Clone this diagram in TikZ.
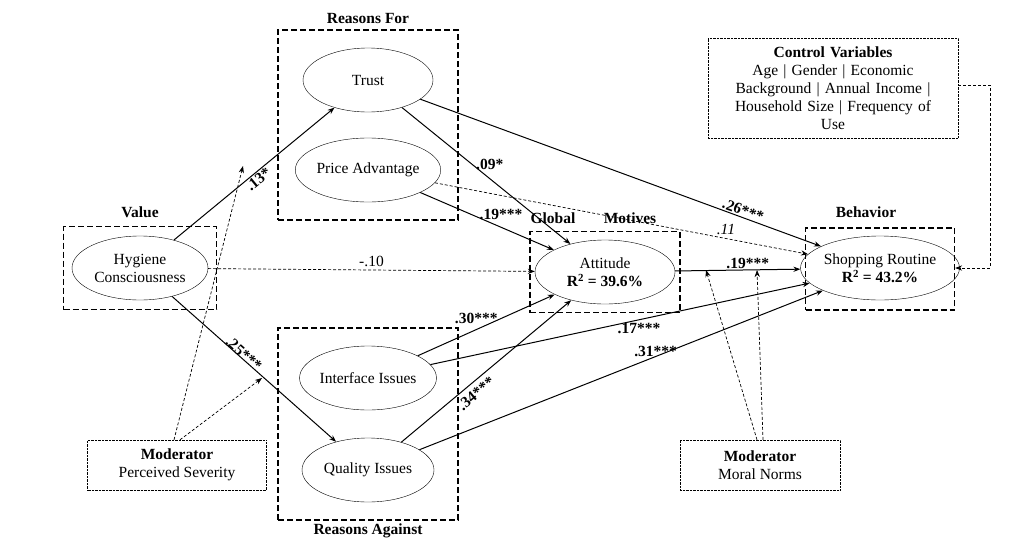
\documentclass[tikz,border=0pt]{standalone}
\usepackage{fontspec}
\setmainfont{Liberation Serif}
\usetikzlibrary{arrows.meta,shapes.geometric,calc}
\begin{document}
\begin{tikzpicture}[x=1pt,y=-1pt,
 el/.style={draw,ellipse,minimum width=136pt,minimum height=64pt,inner sep=0pt,font=\fontsize{15.5}{18}\selectfont,align=center},
 grp/.style={draw,line width=1.3pt,dash pattern=on 6pt off 3pt},
 ctl/.style={draw,densely dotted,align=center,font=\fontsize{15.5}{18}\selectfont},
 hd/.style={font=\bfseries\fontsize{15.5}{18}\selectfont},
 ar/.style={-{Stealth[length=7pt]},line width=1pt},
 da/.style={-{Stealth[length=7pt]},densely dashed,line width=0.7pt},
 lb/.style={font=\bfseries\fontsize{15.5}{18}\selectfont,inner sep=1pt}]
\useasboundingbox (0,0) rectangle (1019,552);
% groups
\node[grp,minimum width=180pt,minimum height=190pt] (rf) at (368,125) {};
\node[hd] (rfl) at (368,18) {Reasons For};
\node[grp,minimum width=180pt,minimum height=192pt] (ra) at (368,424) {};
\node[hd] (ral) at (368,531) {Reasons Against};
\node[grp,minimum width=153pt,minimum height=83pt] (vb) at (140,268) {};
\node[hd] (vl) at (140,212) {Value};
\node[grp,minimum width=150pt,minimum height=81pt] (gb) at (605,272) {};
\node[hd] (gl1) at (553,218) {Global};
\node[hd] (gl2) at (630,218) {Motives};
\node[grp,minimum width=149pt,minimum height=82pt] (bb) at (880,269) {};
\node[hd] (bl) at (866,212) {Behavior};
% ellipses
\node[el,minimum width=130pt] (tr) at (368,80) {Trust};
\node[el] (pa) at (368,170) {Price Advantage};
\node[el] (hy) at (140,268) {Hygiene\\Consciousness};
\node[el,minimum width=140pt] (at) at (605,272) {Attitude\\\textbf{R\textsuperscript{2} = 39.6\%}};
\node[el,minimum width=142pt] (sr) at (880,268) {Shopping Routine\\\textbf{R\textsuperscript{2} = 43.2\%}};
\node[el,minimum width=132pt] (ii) at (368,378) {Interface Issues};
\node[el,minimum width=132pt] (qi) at (368,470) {Quality Issues};
% controls/moderators
\node[ctl,minimum width=250pt,minimum height=100pt,text width=240pt] (cv) at (833,88) {\textbf{Control Variables}\\Age | Gender | Economic\\Background | Annual Income |\\Household Size | Frequency of\\Use};
\node[ctl,minimum width=179pt,minimum height=50pt] (ps) at (177,465) {\textbf{Moderator}\\Perceived Severity};
\node[ctl,minimum width=160pt,minimum height=50pt] (mn) at (760,465) {\textbf{Moderator}\\Moral Norms};
% paths
\draw[ar] (hy) -- node[lb,sloped,below,pos=0.5]{.13*} (tr);
\draw[ar] (hy) -- node[lb,sloped,above,pos=0.4,xshift=4pt,yshift=-2pt]{.25***} (qi);
\draw[da] (hy) -- node[above,font=\fontsize{15.5}{18}\selectfont]{-.10} (at);
\draw[ar] (tr) -- node[lb,pos=0.42,right,xshift=2pt]{.09*} (at);
\draw[ar] (tr) -- node[lb,pos=0.8,above,sloped]{.26***} (sr);
\draw[ar] (pa) -- node[lb,pos=0.5,above,xshift=14pt]{.19***} (at);
\draw[da] (pa) -- node[pos=0.78,above,font=\itshape\fontsize{15.5}{18}\selectfont]{.11} (sr);
\draw[ar] (ii) -- node[lb,pos=0.5,above,xshift=-10pt]{.30***} (at);
\draw[ar] (ii) -- node[lb,pos=0.55,below,yshift=-2pt]{.17***} (sr);
\draw[ar] (qi) -- node[lb,pos=0.4,sloped,below,yshift=-4pt]{.34***} (at);
\draw[ar] (qi) -- node[lb,pos=0.6,above,xshift=-6pt,yshift=-4pt]{.31***} (sr);
\draw[ar] (at) -- node[lb,above,xshift=10pt]{.19***} (sr);
% moderator arrows
\coordinate (m1) at (243,166);
\coordinate (m2) at (262,378);
\coordinate (m3) at (706,270);
\coordinate (m4) at (757,270);
\draw[da] ([xshift=-3pt]ps.north) -- (m1);
\draw[da] ([xshift=3pt]ps.north) -- (m2);
\draw[da] ([xshift=-3pt]mn.north) -- (m3);
\draw[da] ([xshift=3pt]mn.north) -- (m4);
\coordinate (c1) at (990,85);
\coordinate (c2) at (990,268);
\draw[da] (cv.east |- c1) -- (c1) -- (c2) -- (bb.east |- c2);
\end{tikzpicture}
\end{document}
